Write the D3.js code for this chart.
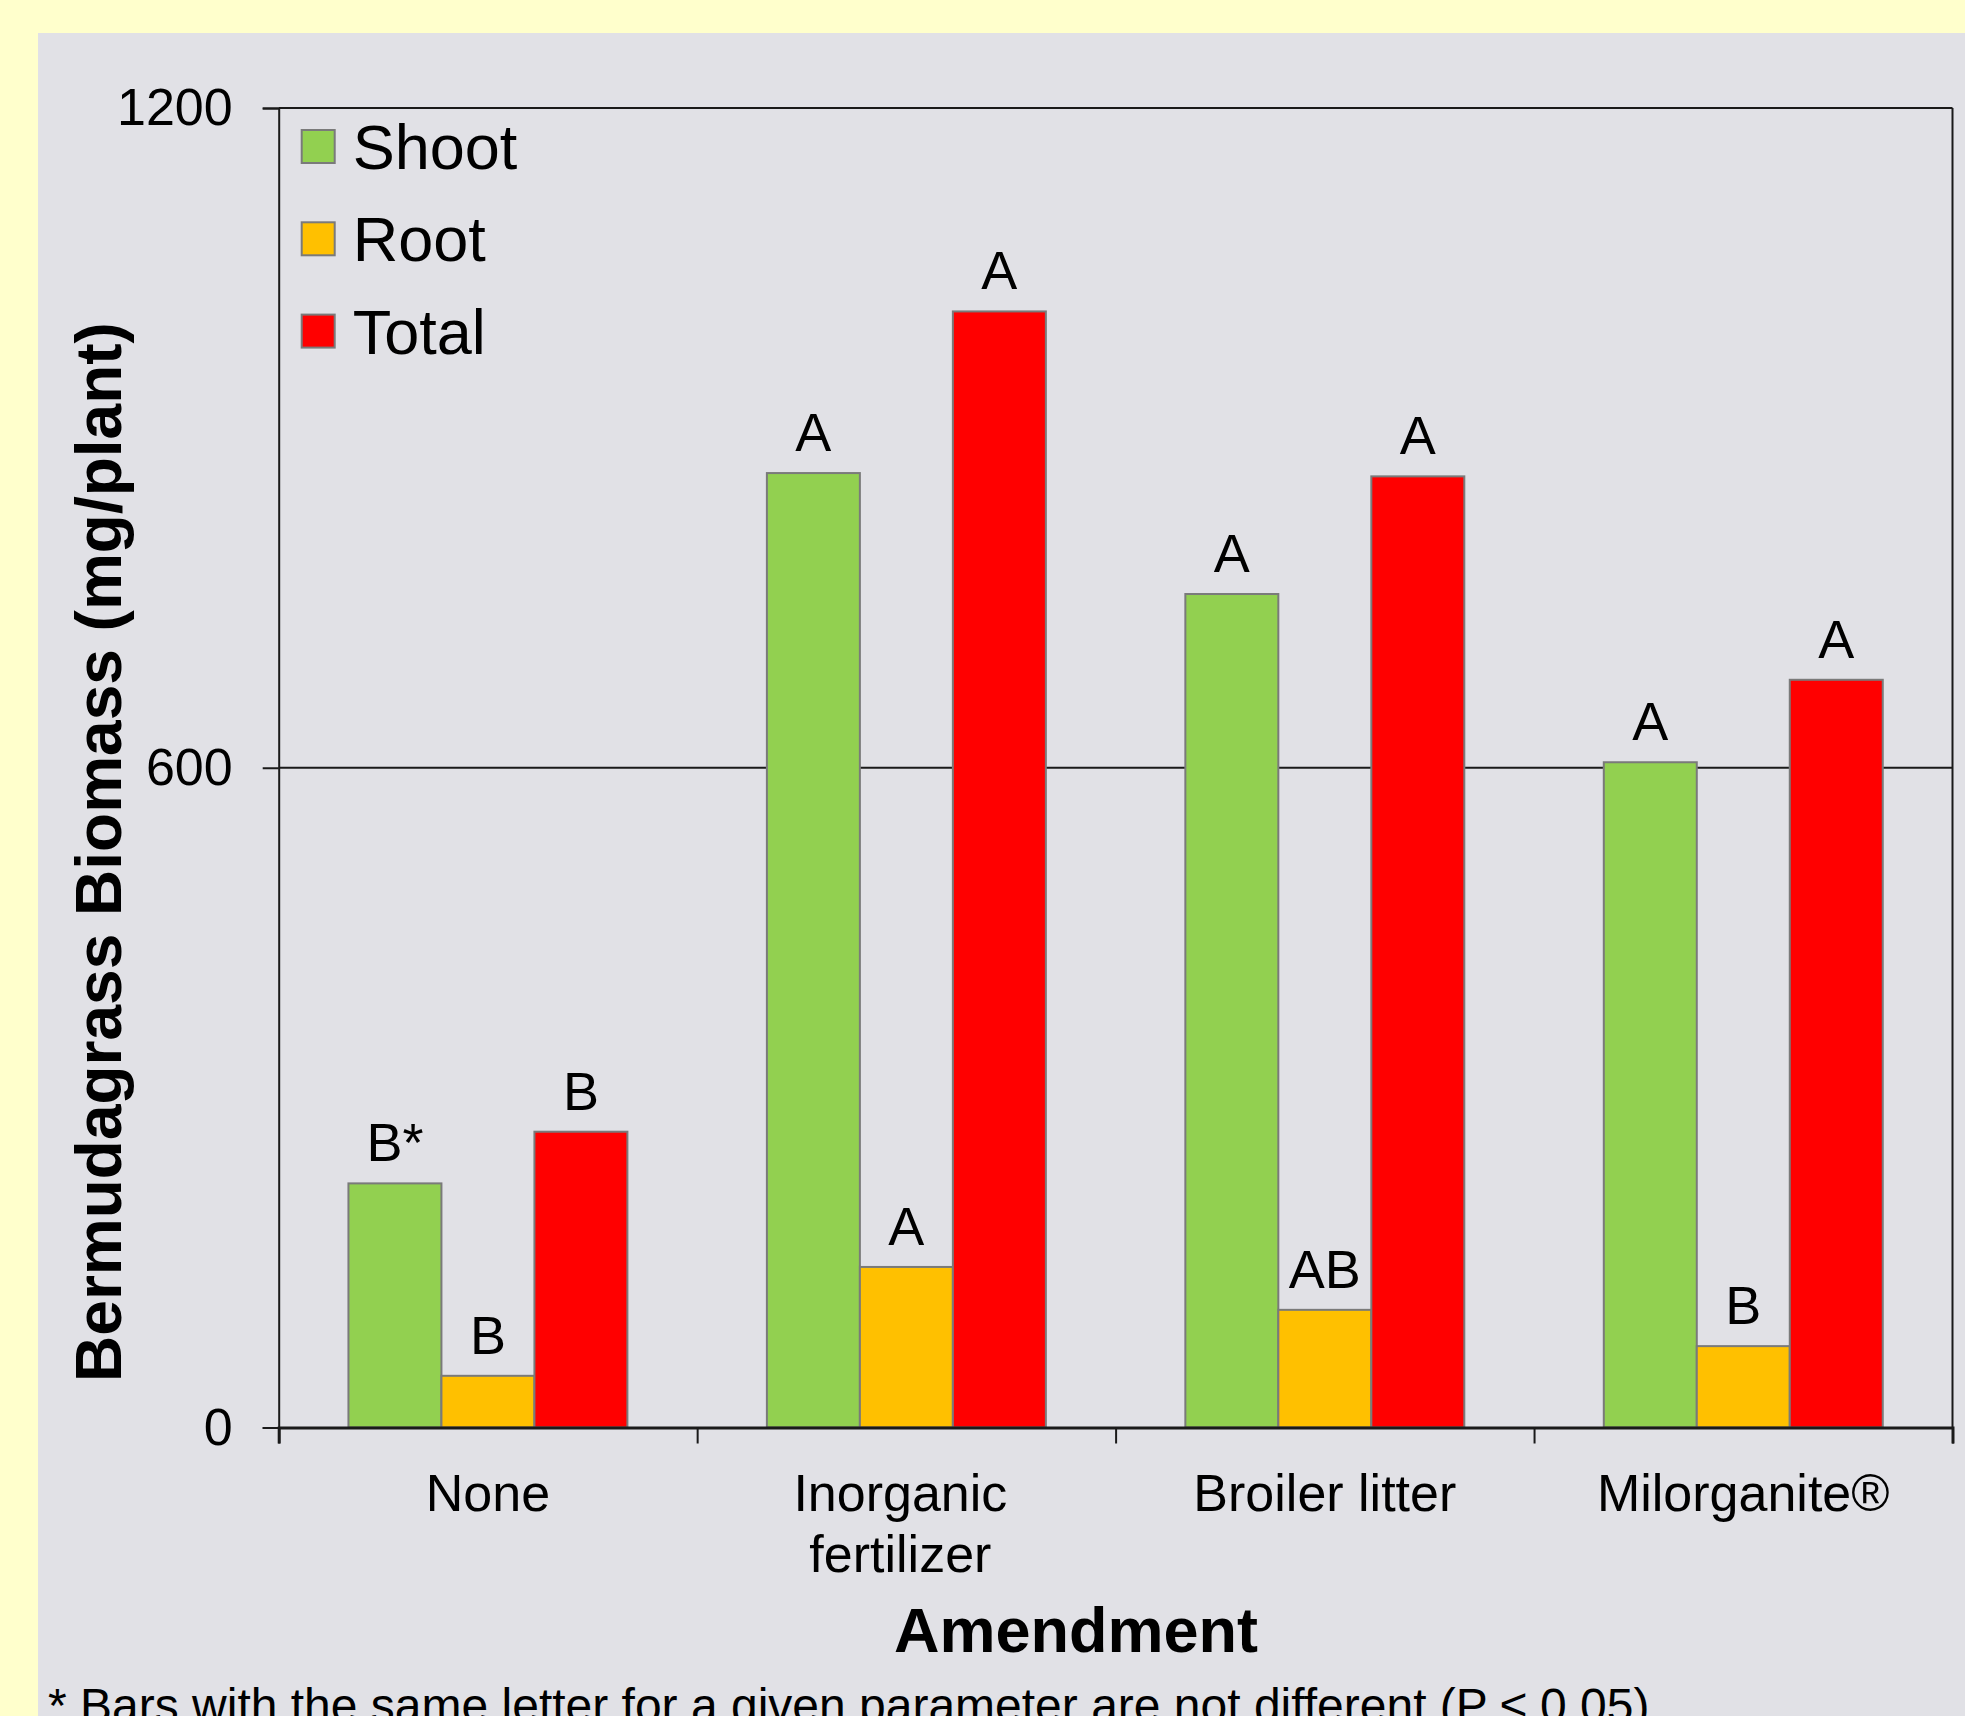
<!DOCTYPE html>
<html>
<head>
<meta charset="utf-8">
<script src="https://cdn.jsdelivr.net/npm/d3@7"></script>
<style>
  body { margin: 0; background: #ffffcc; }
  text { font-family: "Liberation Sans", Arial, sans-serif; fill: #000; }
</style>
</head>
<body>
<div class="chart"></div>
<script>
// Chart data
var categories = ["None", "Inorganic fertilizer", "Broiler litter", "Milorganite®"];
var categoryLines = [["None"], ["Inorganic", "fertilizer"], ["Broiler litter"], ["Milorganite®"]];
var seriesNames = ["Shoot", "Root", "Total"];
var shootValues = [222, 868, 758, 605];
var rootValues = [47, 146, 107, 74];
var totalValues = [269, 1015, 865, 680];
var shootLetters = ["B*", "A", "A", "A"];
var rootLetters = ["B", "A", "AB", "B"];
var totalLetters = ["B", "A", "A", "A"];
var yTicks = [0, 600, 1200];
var colors = ["#92d050", "#ffc000", "#ff0000"];

var svgWidth = 1965;
var svgHeight = 1716;

var margin = { top: 108, right: 12.5, bottom: 288.5, left: 278.7 };
var width = svgWidth - margin.left - margin.right;
var height = svgHeight - margin.top - margin.bottom;

var svg = d3.select(".chart")
  .append("svg")
  .attr("width", svgWidth)
  .attr("height", svgHeight);

// background: yellow page with grey panel
svg.append("rect").attr("width", svgWidth).attr("height", svgHeight).attr("fill", "#ffffcc");
svg.append("rect").attr("x", 38).attr("y", 33)
  .attr("width", svgWidth - 38).attr("height", svgHeight - 33)
  .attr("fill", "#e1e1e6");

var chart = svg.append("g")
  .attr("transform", "translate(" + margin.left + "," + margin.top + ")");

// build rows from the arrays
var rows = categories.map(function(c, i) {
  return {
    category: c,
    values: [
      { series: 0, value: shootValues[i], letter: shootLetters[i] },
      { series: 1, value: rootValues[i], letter: rootLetters[i] },
      { series: 2, value: totalValues[i], letter: totalLetters[i] }
    ]
  };
});

// scales
var x0 = d3.scaleBand().domain(categories).range([0, width])
  .paddingInner(1 / 3).paddingOuter(1 / 6);
var x1 = d3.scaleBand().domain([0, 1, 2]).range([0, x0.bandwidth()]);
var yLinearScale = d3.scaleLinear().domain([0, 1200]).range([height, 0]);
var xBounds = d3.scaleLinear().domain([0, categories.length]).range([0, width]);

// gridlines at 600 and 1200, plus right frame
chart.selectAll(".grid")
  .data(yTicks.filter(function(d) { return d > 0; }))
  .enter()
  .append("line")
  .attr("x1", 0).attr("x2", width)
  .attr("y1", function(d) { return yLinearScale(d); })
  .attr("y2", function(d) { return yLinearScale(d); })
  .attr("stroke", "#1a1a1a").attr("stroke-width", 2);

chart.append("line")
  .attr("x1", width).attr("x2", width)
  .attr("y1", 0).attr("y2", height)
  .attr("stroke", "#1a1a1a").attr("stroke-width", 2);

// bars
var groups = chart.selectAll(".group")
  .data(rows)
  .enter()
  .append("g")
  .attr("transform", function(d) { return "translate(" + x0(d.category) + ",0)"; });

groups.selectAll("rect")
  .data(function(d) { return d.values; })
  .enter()
  .append("rect")
  .attr("x", function(d) { return x1(d.series); })
  .attr("y", function(d) { return yLinearScale(d.value); })
  .attr("width", x1.bandwidth())
  .attr("height", function(d) { return height - yLinearScale(d.value); })
  .attr("fill", function(d) { return colors[d.series]; })
  .attr("stroke", "#7a7a7a")
  .attr("stroke-width", 2);

// significance letters
groups.selectAll(".letter")
  .data(function(d) { return d.values; })
  .enter()
  .append("text")
  .attr("x", function(d) { return x1(d.series) + x1.bandwidth() / 2; })
  .attr("y", function(d) { return yLinearScale(d.value) - 22; })
  .attr("text-anchor", "middle")
  .style("font-size", "54px")
  .text(function(d) { return d.letter; });

// y axis
var leftAxis = d3.axisLeft(yLinearScale)
  .tickValues(yTicks)
  .tickFormat(d3.format("d"))
  .tickSize(16)
  .tickPadding(30);
var yAxis = chart.append("g").call(leftAxis);
yAxis.select(".domain").attr("stroke", "#1a1a1a").attr("stroke-width", 2);
yAxis.selectAll(".tick line").attr("stroke", "#1a1a1a").attr("stroke-width", 2);
yAxis.selectAll("text").style("font-size", "52px")
  .style("font-family", "'Liberation Sans', Arial, sans-serif");

// x axis with ticks at category boundaries
var bottomAxis = d3.axisBottom(xBounds)
  .tickValues(d3.range(categories.length + 1))
  .tickFormat("")
  .tickSizeOuter(0)
  .tickSize(16);
var xAxis = chart.append("g")
  .attr("transform", "translate(0," + height + ")")
  .call(bottomAxis);
xAxis.select(".domain").attr("stroke", "#1a1a1a").attr("stroke-width", 3);
xAxis.selectAll(".tick line").attr("stroke", "#1a1a1a").attr("stroke-width", 2);

// category labels
var catLabels = chart.selectAll(".cat")
  .data(categories)
  .enter()
  .append("text")
  .attr("text-anchor", "middle")
  .style("font-size", "52px")
  .attr("transform", function(d, i) {
    // the two-line label sits a little left of its group in the original
    var shift = categoryLines[i].length > 1 ? -6 : 0;
    return "translate(" + (x0(d) + x0.bandwidth() / 2 + shift) + "," + (height + 83) + ")";
  });
catLabels.selectAll("tspan")
  .data(function(d, i) { return categoryLines[i]; })
  .enter()
  .append("tspan")
  .attr("x", 0)
  .attr("dy", function(d, i) { return i === 0 ? 0 : 61; })
  .text(function(d) { return d; });

// axis titles
chart.append("text")
  .attr("transform", "translate(" + (121 - margin.left) + "," + (852 - margin.top) + ") rotate(-90)")
  .attr("text-anchor", "middle")
  .style("font-size", "64px")
  .style("font-weight", "bold")
  .text("Bermudagrass Biomass (mg/plant)");

chart.append("text")
  .attr("x", 1076 - margin.left)
  .attr("y", 1652 - margin.top)
  .attr("text-anchor", "middle")
  .style("font-size", "63px")
  .style("font-weight", "bold")
  .text("Amendment");

// legend
var legend = chart.selectAll(".legend")
  .data(seriesNames)
  .enter()
  .append("g")
  .attr("transform", function(d, i) { return "translate(23," + (38 + i * 92.3) + ")"; });

legend.append("rect")
  .attr("x", 0).attr("y", -16)
  .attr("width", 33).attr("height", 33)
  .attr("fill", function(d, i) { return colors[i]; })
  .attr("stroke", "#7a7a7a").attr("stroke-width", 2);

legend.append("text")
  .attr("x", 51)
  .attr("y", 23)
  .style("font-size", "63px")
  .text(function(d) { return d; });

// footnote (runs off the bottom edge, as in the original)
svg.append("text")
  .attr("x", 48)
  .attr("y", 1722)
  .style("font-size", "48px")
  .text("* Bars with the same letter for a given parameter are not different (P ≤ 0.05)");
</script>
</body>
</html>
